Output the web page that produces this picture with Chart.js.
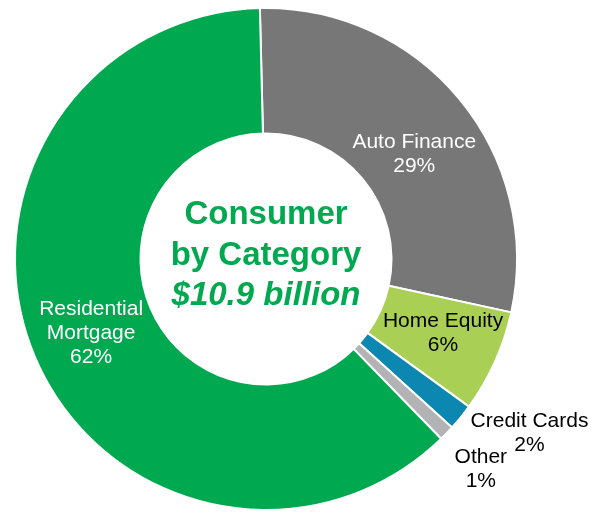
<!DOCTYPE html>
<html>
<head>
<meta charset="utf-8">
<script src="https://cdn.jsdelivr.net/npm/chart.js@4/dist/chart.umd.min.js"></script>
<style>
  html, body { margin: 0; padding: 0; background: #fff; }
  #wrap { width: 592px; height: 513px; }
</style>
</head>
<body>
<div id="wrap"><canvas id="chartCat" width="592" height="513"></canvas></div>
<script>
// datos del grafico
const categories = ["Auto Finance", "Home Equity", "Credit Cards", "Other", "Residential Mortgage"];
const shares = [28.8, 6.6, 1.7, 1.0, 61.9];
const pctLabels = ["29%", "6%", "2%", "1%", "62%"];
const labelLines = [["Auto Finance"], ["Home Equity"], ["Credit Cards"], ["Other"], ["Residential", "Mortgage"]];
const sliceColors = ["#777777", "#A9CF54", "#0B87B1", "#B3B3B5", "#00A850"];
const labelColors = ["#ffffff", "#000000", "#000000", "#000000", "#ffffff"];
const centerLines = ["Consumer", "by Category", "$10.9 billion"];

// posicion de cada etiqueta: fraccion del radio + ajuste
const labelRadius = [0.73, 0.76, 1.25, 1.2, 0.73];
const labelNudge = [[7, 12], [3, -4], [20, -24], [-2, 1], [-6, 3]];

const FONT = '"Liberation Sans", Arial, sans-serif';

const sliceLabels = {
  id: 'sliceLabels',
  afterDatasetsDraw(chart) {
    const ctx = chart.ctx;
    const arcs = chart.getDatasetMeta(0).data;
    ctx.save();
    ctx.font = '21px ' + FONT;
    ctx.textAlign = 'center';
    ctx.textBaseline = 'middle';
    arcs.forEach((arc, i) => {
      const p = arc.getProps(['x', 'y', 'startAngle', 'endAngle', 'outerRadius']);
      const mid = (p.startAngle + p.endAngle) / 2;
      const r = p.outerRadius * labelRadius[i];
      const x = p.x + Math.cos(mid) * r + labelNudge[i][0];
      const y = p.y + Math.sin(mid) * r + labelNudge[i][1];
      const lines = labelLines[i].concat([pctLabels[i]]);
      const lh = 24;
      const top = y - (lines.length - 1) * lh / 2;
      ctx.fillStyle = labelColors[i];
      lines.forEach((t, k) => ctx.fillText(t, x, top + k * lh));
    });

    // texto del centro
    const c = arcs[0];
    ctx.fillStyle = '#00A850';
    const cy = c.y - 3;
    ctx.font = 'bold 33px ' + FONT;
    ctx.fillText(centerLines[0], c.x, cy - 41);
    ctx.fillText(centerLines[1], c.x, cy);
    ctx.font = 'italic bold 33px ' + FONT;
    ctx.fillText(centerLines[2], c.x, cy + 40);
    ctx.restore();
  }
};

const data = {
  labels: categories,
  datasets: [{
    data: shares,
    backgroundColor: sliceColors,
    borderColor: '#ffffff',
    borderWidth: 2
  }]
};

const config = {
  type: 'doughnut',
  data: data,
  options: {
    responsive: false,
    animation: false,
    cutout: '50%',
    rotation: -1.4,
    layout: { padding: { left: 14, right: 74, top: 7, bottom: 2 } },
    plugins: {
      legend: { display: false },
      tooltip: { enabled: false }
    }
  },
  plugins: [sliceLabels]
};

const myChart = new Chart(document.getElementById('chartCat'), config);
</script>
</body>
</html>
